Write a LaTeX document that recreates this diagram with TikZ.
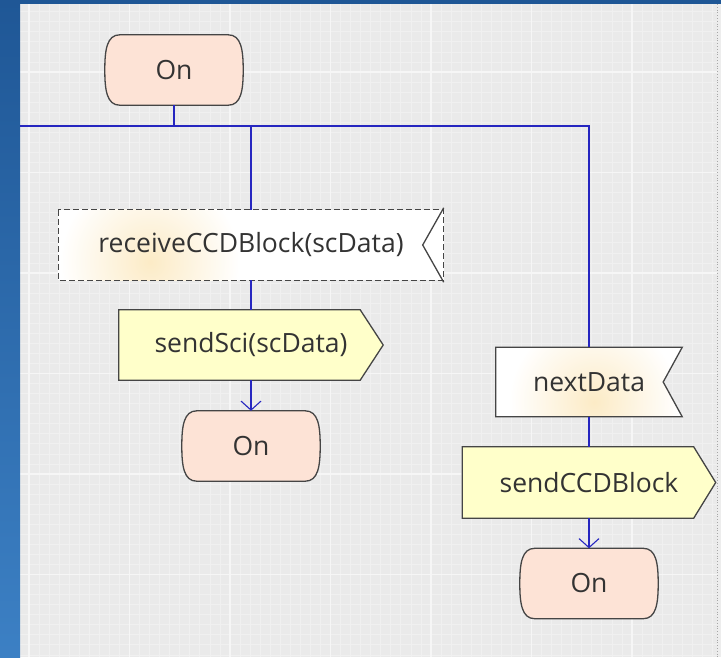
\documentclass[tikz,border=0pt]{standalone}
\usepackage{fontspec}
\setmainfont{Open Sans}
\usetikzlibrary{arrows.meta,calc}
\definecolor{deskbluetop}{HTML}{1F5796}
\definecolor{deskbluebot}{HTML}{3C80C4}
\definecolor{canvasbg}{HTML}{EAEAEA}
\definecolor{gridminor}{HTML}{F0F0F0}
\definecolor{gridmajor}{HTML}{F6F6F6}
\definecolor{onfill}{HTML}{FDE3D6}
\definecolor{taskfill}{HTML}{FFFFCA}
\definecolor{shapeborder}{HTML}{454545}
\definecolor{txt}{HTML}{333333}
\definecolor{connblue}{HTML}{2626C0}
\definecolor{glow}{HTML}{FCEBC6}
\pgfdeclarelayer{bg}
\pgfsetlayers{bg,main}
\tikzset{
  lbl/.style={font=\fontsize{26.5}{31}\selectfont, text=txt, inner sep=0pt},
  statebox/.style={lbl, minimum width=138pt, minimum height=70pt},
  shapebox/.style={lbl, minimum height=70pt},
  outline/.style={draw=shapeborder, line width=1.3pt, line join=miter},
  conn/.style={draw=connblue, line width=1.2pt},
  arr/.style={conn, -{Straight Barb[length=9pt,width=20pt,line width=1.1pt]}},
}
\newcommand{\stadiumoutline}[1]{%
  \draw[outline, fill=onfill]
    ($(#1.north west)+(15,0)$) -- ($(#1.north east)+(-15,0)$)
    .. controls ($(#1.north east)+(-2,0)$) and ($(#1.east)+(0,-20)$) .. (#1.east)
    .. controls ($(#1.east)+(0,20)$) and ($(#1.south east)+(-2,0)$) .. ($(#1.south east)+(-15,0)$)
    -- ($(#1.south west)+(15,0)$)
    .. controls ($(#1.south west)+(2,0)$) and ($(#1.west)+(0,20)$) .. (#1.west)
    .. controls ($(#1.west)+(0,-20)$) and ($(#1.north west)+(2,0)$) .. cycle;}
\begin{document}
\begin{tikzpicture}[x=1pt,y=-1pt]
\useasboundingbox (0,0) rectangle (721,657);
% nodes
\node[statebox] (on1) at (174,70) {On};
\node[shapebox, minimum width=385pt] (recv) at (251,245) {receiveCCDBlock(scData)};
\node[shapebox, minimum width=264pt] (send) at (251,345) {sendSci(scData)};
\node[statebox] (on2) at (251,446) {On};
\node[shapebox, minimum width=186pt, minimum height=69pt] (next) at (589,382) {nextData};
\node[shapebox, minimum width=253pt, minimum height=71pt] (sccd) at (589,482.5) {sendCCDBlock};
\node[statebox] (on3) at (589,583.5) {On};
\coordinate (lft) at (20,126);
\coordinate (j0) at (174,126);
\coordinate (jl) at (251,126);
\coordinate (jr) at (589,126);
\begin{pgfonlayer}{bg}
  % desktop and canvas
  \fill[canvasbg] (0,0) rectangle (721,657);
  \foreach \i in {1,...,69} {
    \draw[gridminor, line width=0.8pt] ({18.95+\i*10.05},4) -- ({18.95+\i*10.05},657);
  }
  \foreach \j in {1,...,65} {
    \draw[gridminor, line width=0.8pt] (20,{1.65+\j*10.05}) -- (717,{1.65+\j*10.05});
  }
  \foreach \i in {1,11,21,31,41,51,61} {
    \draw[gridmajor, line width=1.1pt] ({18.95+\i*10.05},4) -- ({18.95+\i*10.05},657);
  }
  \foreach \j in {7,17,27,37,47,57} {
    \draw[gridmajor, line width=1.1pt] (20,{1.65+\j*10.05}) -- (717,{1.65+\j*10.05});
  }
  \fill[white!93!black] (717,4) rectangle (721,657);
  \draw[black!35, dotted, line width=0.8pt] (717,4) -- (717,657);
  \shade[top color=deskbluetop, bottom color=deskbluebot] (0,0) rectangle (20,657);
  \fill[deskbluetop] (0,0) rectangle (721,4);
  % state symbols
  \stadiumoutline{on1}
  \stadiumoutline{on2}
  \stadiumoutline{on3}
  % receive signal (dashed)
  \fill[white] (recv.north west) rectangle (recv.south east);
  \begin{scope}
    \clip (recv.north west) rectangle (recv.south east);
    \shade[inner color=glow, outer color=white] (150,262) circle (90pt);
  \end{scope}
  \draw[outline, dash pattern=on 6pt off 3pt] (recv.north west) rectangle (recv.south east);
  \draw[outline] ([yshift=2pt]recv.north east) -- ([xshift=-21pt]recv.east) -- ([yshift=-2pt]recv.south east);
  % sendSci output
  \draw[outline, fill=taskfill] (send.north west) -- ([xshift=-23pt]send.north east) -- (send.east) -- ([xshift=-23pt]send.south east) -- (send.south west) -- cycle;
  % nextData input
  \fill[white] (next.north west) -- (next.north east) -- ([xshift=-19pt]next.east) -- (next.south east) -- (next.south west) -- cycle;
  \begin{scope}
    \clip (next.north west) -- (next.north east) -- ([xshift=-19pt]next.east) -- (next.south east) -- (next.south west) -- cycle;
    \shade[inner color=glow, outer color=white] (594,402) circle (85pt);
  \end{scope}
  \draw[outline] (next.north west) -- (next.north east) -- ([xshift=-19pt]next.east) -- (next.south east) -- (next.south west) -- cycle;
  % sendCCDBlock output
  \draw[outline, fill=taskfill] (sccd.north west) -- ([xshift=-22pt]sccd.north east) -- (sccd.east) -- ([xshift=-22pt]sccd.south east) -- (sccd.south west) -- cycle;
\end{pgfonlayer}
% connectors
\draw[conn] (on1.south) -- (j0);
\draw[conn] (lft) -- (jr) -- (next.north);
\draw[conn] (jl) -- (recv.north);
\draw[conn] (recv.south) -- (send.north);
\draw[arr] (send.south) -- (on2.north);
\draw[conn] (next.south) -- (sccd.north);
\draw[arr] (sccd.south) -- (on3.north);
\end{tikzpicture}
\end{document}
